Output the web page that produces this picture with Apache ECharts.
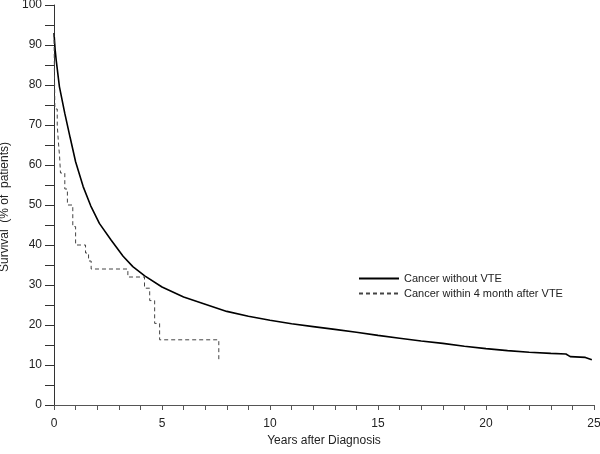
<!DOCTYPE html>
<html>
<head>
<meta charset="utf-8">
<script src="https://cdn.jsdelivr.net/npm/echarts@6/dist/echarts.min.js"></script>
<style>html,body{margin:0;padding:0;background:#fff}#c{width:600px;height:454px}</style>
</head>
<body>
<div id="c"></div>
<script>
// Series names
var seriesNames = ["Cancer without VTE", "Cancer within 4 month after VTE"];

// Cancer without VTE: [years, survival %]
var withoutVTE = [
  [0, 93], [0.05, 89], [0.1, 86.3], [0.25, 79.6], [0.5, 72.9], [0.75, 66.8],
  [1, 60.8], [1.35, 54.6], [1.7, 49.8], [2.1, 45.4], [2.65, 41.2], [3.2, 37.2],
  [3.65, 34.6], [4.2, 32.3], [5, 29.5], [6, 27], [7, 25.2], [8, 23.4], [9, 22.2],
  [10, 21.2], [11, 20.3], [12, 19.6], [13, 18.9], [14, 18.2], [15, 17.4],
  [16, 16.7], [17, 16.0], [18, 15.4], [19, 14.7], [20, 14.1], [21, 13.6],
  [22, 13.2], [23, 12.9], [23.7, 12.75], [23.9, 12.1], [24.6, 11.9], [24.9, 11.3]
];

// Cancer within 4 month after VTE (Kaplan-Meier steps): [years, survival %]
var withinVTE = [
  [0, 93], [0.04, 74], [0.15, 70], [0.2, 66], [0.26, 62], [0.3, 58],
  [0.5, 54], [0.62, 50], [0.87, 44.6], [1.0, 40], [1.46, 38], [1.6, 36],
  [1.72, 34], [3.42, 32], [4.19, 29.2], [4.43, 26.1], [4.66, 20.4],
  [4.89, 16.3], [7.63, 10.8]
];

// Tick labels
var xLabels = [0, 5, 10, 15, 20, 25];
var xTicks = [0,1,2,3,4,5,6,7,8,9,10,11,12,13,14,15,16,17,18,19,20,21,22,23,24,25];
var yLabels = [0, 10, 20, 30, 40, 50, 60, 70, 80, 90, 100];
var yTicks = [0,5,10,15,20,25,30,35,40,45,50,55,60,65,70,75,80,85,90,95,100];

var font = "'Liberation Sans', Arial, Helvetica, sans-serif";
var chart = echarts.init(document.getElementById('c'), null, {renderer: 'canvas'});
chart.setOption({
  animation: false,
  backgroundColor: '#fff',
  textStyle: {fontFamily: font},
  grid: {left: 54, right: 6, top: 5, bottom: 45, containLabel: false, outerBoundsMode: 'none'},
  legend: {
    orient: 'vertical',
    left: 353, top: 268,
    itemWidth: 40, itemHeight: 10, itemGap: 4,
    itemStyle: {opacity: 0},
    textStyle: {fontFamily: font, fontSize: 11, color: '#222'},
    data: seriesNames
  },
  xAxis: {
    type: 'value', min: 0, max: 25, interval: 1,
    name: 'Years after Diagnosis', nameLocation: 'middle', nameGap: 23,
    nameTextStyle: {fontFamily: font, fontSize: 12, color: '#222'},
    axisLine: {show: true, lineStyle: {color: '#555', width: 1}},
    axisTick: {show: true, length: 5, customValues: xTicks, lineStyle: {color: '#555'}},
    axisLabel: {customValues: xLabels, margin: 9, fontFamily: font, fontSize: 12, color: '#222'},
    splitLine: {show: false}
  },
  yAxis: {
    type: 'value', min: -1, max: 100,
    name: 'Survival  (% of  patients)', nameLocation: 'middle', nameGap: 36, nameRotate: 90,
    nameTextStyle: {fontFamily: font, fontSize: 12, color: '#222'},
    axisLine: {show: true, lineStyle: {color: '#333', width: 1}},
    axisTick: {show: true, length: 9, customValues: yTicks, lineStyle: {color: '#333'}},
    axisLabel: {customValues: yLabels, margin: 12, fontFamily: font, fontSize: 12, color: '#222'},
    splitLine: {show: false}
  },
  series: [
    {
      name: seriesNames[0], type: 'line', data: withoutVTE, symbol: 'none',
      smooth: false,
      lineStyle: {color: '#000', width: 1.6, type: 'solid'},
      itemStyle: {color: '#000'}
    },
    {
      name: seriesNames[1], type: 'line', data: withinVTE, symbol: 'none',
      step: 'end',
      lineStyle: {color: '#444', width: 1, type: [4, 3]},
      itemStyle: {color: '#444'}
    }
  ]
});
</script>
</body>
</html>
